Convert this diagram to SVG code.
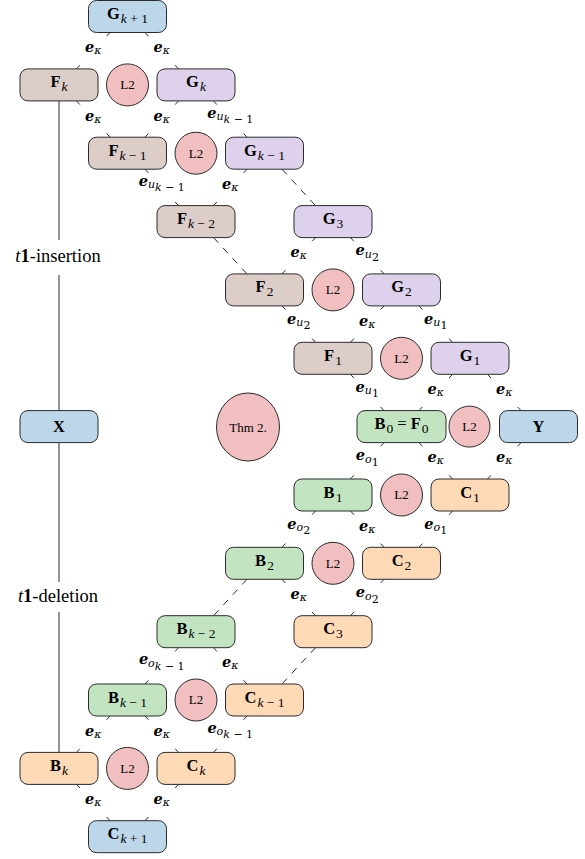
<svg xmlns="http://www.w3.org/2000/svg" width="585" height="859" viewBox="0 0 585 859">
<style>
.box{stroke:#2b2b2b;stroke-width:1}
.blue{fill:#bcd6ea}.brown{fill:#dccdc9}.purple{fill:#ddd1ec}.pink{fill:#f2bfc0}.green{fill:#c2e4c1}.orange{fill:#fdd9b6}
.nl{font-family:"Liberation Serif",serif;font-size:16.5px;text-anchor:middle;fill:#000}
.b{font-weight:bold}.i{font-style:italic}.s{font-size:13.5px}.n{font-style:normal}
.sm{font-family:"Liberation Serif",serif;font-size:13px;text-anchor:middle;fill:#000}
.el{font-family:"DejaVu Serif",serif;font-size:11px;font-style:italic;text-anchor:middle;fill:#000}
.eb{font-weight:bold;font-size:14.5px}
.tick{stroke:#2b2b2b;stroke-width:1;fill:none}
.dash{stroke-dasharray:7 7}
.side{font-family:"Liberation Serif",serif;font-size:18.5px;text-anchor:middle;fill:#000}
</style>
<g id="connectors">
<path class="tick" d="M59 100.9V240M59 275V410.6M59 442.6V582M59 612V752.4"/>
<path class="tick dash" d="M282 169.2L315.5 205.6M213.5 237.6L247 273.9M247 579.3L213.5 615.7M315.5 647.7L282 684"/>
<path class="tick" d="M110 32.5l-3.4 3.7M76.5 68.9l3.4-3.7"/>
<path class="tick" d="M145 32.5l3.4 3.7M178.5 68.9l-3.4-3.7"/>
<path class="tick" d="M76.5 100.9l3.4 3.7M110 137.2l-3.4-3.7"/>
<path class="tick" d="M178.5 100.9l-3.4 3.7M145 137.2l3.4-3.7"/>
<path class="tick" d="M213.5 100.9l3.4 3.7M247 137.2l-3.4-3.7"/>
<path class="tick" d="M145 169.2l3.4 3.7M178.5 205.6l-3.4-3.7"/>
<path class="tick" d="M247 169.2l-3.4 3.7M213.5 205.6l3.4-3.7"/>
<path class="tick" d="M315.5 237.6l-3.4 3.7M282 273.9l3.4-3.7"/>
<path class="tick" d="M350.5 237.6l3.4 3.7M384 273.9l-3.4-3.7"/>
<path class="tick" d="M282 305.9l3.4 3.7M315.5 342.3l-3.4-3.7"/>
<path class="tick" d="M384 305.9l-3.4 3.7M350.5 342.3l3.4-3.7"/>
<path class="tick" d="M419 305.9l3.4 3.7M452.5 342.3l-3.4-3.7"/>
<path class="tick" d="M350.5 374.3l3.4 3.7M384 410.6l-3.4-3.7"/>
<path class="tick" d="M452.5 374.3l-3.4 3.7M419 410.6l3.4-3.7"/>
<path class="tick" d="M487.5 374.3l3.4 3.7M521 410.6l-3.4-3.7"/>
<path class="tick" d="M384 442.6l-3.4 3.7M350.5 479l3.4-3.7"/>
<path class="tick" d="M419 442.6l3.4 3.7M452.5 479l-3.4-3.7"/>
<path class="tick" d="M521 442.6l-3.4 3.7M487.5 479l3.4-3.7"/>
<path class="tick" d="M315.5 511l-3.4 3.7M282 547.3l3.4-3.7"/>
<path class="tick" d="M350.5 511l3.4 3.7M384 547.3l-3.4-3.7"/>
<path class="tick" d="M452.5 511l-3.4 3.7M419 547.3l3.4-3.7"/>
<path class="tick" d="M282 579.3l3.4 3.7M315.5 615.7l-3.4-3.7"/>
<path class="tick" d="M384 579.3l-3.4 3.7M350.5 615.7l3.4-3.7"/>
<path class="tick" d="M178.5 647.7l-3.4 3.7M145 684l3.4-3.7"/>
<path class="tick" d="M213.5 647.7l3.4 3.7M247 684l-3.4-3.7"/>
<path class="tick" d="M110 716l-3.4 3.7M76.5 752.4l3.4-3.7"/>
<path class="tick" d="M145 716l3.4 3.7M178.5 752.4l-3.4-3.7"/>
<path class="tick" d="M247 716l-3.4 3.7M213.5 752.4l3.4-3.7"/>
<path class="tick" d="M76.5 784.4l3.4 3.7M110 820.7l-3.4-3.7"/>
<path class="tick" d="M178.5 784.4l-3.4 3.7M145 820.7l3.4-3.7"/>
<text class="el" x="93.25" y="52.2"><tspan class="eb">e</tspan><tspan dy="2">κ</tspan></text>
<text class="el" x="161.75" y="52.2"><tspan class="eb">e</tspan><tspan dy="2">κ</tspan></text>
<text class="el" x="93.25" y="120.55"><tspan class="eb">e</tspan><tspan dy="2">κ</tspan></text>
<text class="el" x="161.75" y="120.55"><tspan class="eb">e</tspan><tspan dy="2">κ</tspan></text>
<text class="el" x="230.25" y="117.55"><tspan class="eb">e</tspan><tspan dy="2.5">u</tspan><tspan dy="3">k</tspan><tspan class="n"> − 1</tspan></text>
<text class="el" x="161.75" y="185.9"><tspan class="eb">e</tspan><tspan dy="2.5">u</tspan><tspan dy="3">k</tspan><tspan class="n"> − 1</tspan></text>
<text class="el" x="230.25" y="188.9"><tspan class="eb">e</tspan><tspan dy="2">κ</tspan></text>
<text class="el" x="298.75" y="257.25"><tspan class="eb">e</tspan><tspan dy="2">κ</tspan></text>
<text class="el" x="367.25" y="255.25"><tspan class="eb">e</tspan><tspan dy="2.5">u</tspan><tspan class="n" dy="3">2</tspan></text>
<text class="el" x="298.75" y="323.6"><tspan class="eb">e</tspan><tspan dy="2.5">u</tspan><tspan class="n" dy="3">2</tspan></text>
<text class="el" x="367.25" y="325.6"><tspan class="eb">e</tspan><tspan dy="2">κ</tspan></text>
<text class="el" x="435.75" y="323.6"><tspan class="eb">e</tspan><tspan dy="2.5">u</tspan><tspan class="n" dy="3">1</tspan></text>
<text class="el" x="367.25" y="391.95"><tspan class="eb">e</tspan><tspan dy="2.5">u</tspan><tspan class="n" dy="3">1</tspan></text>
<text class="el" x="435.75" y="393.95"><tspan class="eb">e</tspan><tspan dy="2">κ</tspan></text>
<text class="el" x="504.25" y="393.95"><tspan class="eb">e</tspan><tspan dy="2">κ</tspan></text>
<text class="el" x="367.25" y="460.3"><tspan class="eb">e</tspan><tspan dy="2.5">o</tspan><tspan class="n" dy="3">1</tspan></text>
<text class="el" x="435.75" y="462.3"><tspan class="eb">e</tspan><tspan dy="2">κ</tspan></text>
<text class="el" x="504.25" y="462.3"><tspan class="eb">e</tspan><tspan dy="2">κ</tspan></text>
<text class="el" x="298.75" y="528.65"><tspan class="eb">e</tspan><tspan dy="2.5">o</tspan><tspan class="n" dy="3">2</tspan></text>
<text class="el" x="367.25" y="530.65"><tspan class="eb">e</tspan><tspan dy="2">κ</tspan></text>
<text class="el" x="435.75" y="528.65"><tspan class="eb">e</tspan><tspan dy="2.5">o</tspan><tspan class="n" dy="3">1</tspan></text>
<text class="el" x="298.75" y="599"><tspan class="eb">e</tspan><tspan dy="2">κ</tspan></text>
<text class="el" x="367.25" y="597"><tspan class="eb">e</tspan><tspan dy="2.5">o</tspan><tspan class="n" dy="3">2</tspan></text>
<text class="el" x="161.75" y="664.35"><tspan class="eb">e</tspan><tspan dy="2.5">o</tspan><tspan dy="3">k</tspan><tspan class="n"> − 1</tspan></text>
<text class="el" x="230.25" y="667.35"><tspan class="eb">e</tspan><tspan dy="2">κ</tspan></text>
<text class="el" x="93.25" y="735.7"><tspan class="eb">e</tspan><tspan dy="2">κ</tspan></text>
<text class="el" x="161.75" y="735.7"><tspan class="eb">e</tspan><tspan dy="2">κ</tspan></text>
<text class="el" x="230.25" y="732.7"><tspan class="eb">e</tspan><tspan dy="2.5">o</tspan><tspan dy="3">k</tspan><tspan class="n"> − 1</tspan></text>
<text class="el" x="93.25" y="804.05"><tspan class="eb">e</tspan><tspan dy="2">κ</tspan></text>
<text class="el" x="161.75" y="804.05"><tspan class="eb">e</tspan><tspan dy="2">κ</tspan></text>
</g>
<g id="labels">
<text class="side" x="58" y="262"><tspan class="i">t</tspan><tspan class="b">1</tspan>-insertion</text>
<text class="side" x="58" y="602"><tspan class="i">t</tspan><tspan class="b">1</tspan>-deletion</text>
</g>
<g id="G_k1"><rect class="box blue" x="88.5" y="0.5" width="78" height="32" rx="8"/><text class="nl" x="127.5" y="19"><tspan class="b">G</tspan><tspan class="s i" dy="4" dx="1">k</tspan><tspan class="s"> + 1</tspan></text></g>
<g id="F_k"><rect class="box brown" x="20" y="68.9" width="78" height="32" rx="8"/><text class="nl" x="59" y="87.4"><tspan class="b">F</tspan><tspan class="s i" dy="4" dx="1">k</tspan></text></g>
<g id="L2_1"><circle class="box pink" cx="127.5" cy="84.9" r="21"/><text class="sm" x="127.5" y="89.3">L2</text></g>
<g id="G_k"><rect class="box purple" x="157" y="68.9" width="78" height="32" rx="8"/><text class="nl" x="196" y="87.4"><tspan class="b">G</tspan><tspan class="s i" dy="4" dx="1">k</tspan></text></g>
<g id="F_km1"><rect class="box brown" x="88.5" y="137.2" width="78" height="32" rx="8"/><text class="nl" x="127.5" y="155.7"><tspan class="b">F</tspan><tspan class="s i" dy="4" dx="1">k</tspan><tspan class="s"> − 1</tspan></text></g>
<g id="L2_2"><circle class="box pink" cx="196" cy="153.2" r="21"/><text class="sm" x="196" y="157.6">L2</text></g>
<g id="G_km1"><rect class="box purple" x="225.5" y="137.2" width="78" height="32" rx="8"/><text class="nl" x="264.5" y="155.7"><tspan class="b">G</tspan><tspan class="s i" dy="4" dx="1">k</tspan><tspan class="s"> − 1</tspan></text></g>
<g id="F_km2"><rect class="box brown" x="157" y="205.6" width="78" height="32" rx="8"/><text class="nl" x="196" y="224.1"><tspan class="b">F</tspan><tspan class="s i" dy="4" dx="1">k</tspan><tspan class="s"> − 2</tspan></text></g>
<g id="G_3"><rect class="box purple" x="294" y="205.6" width="78" height="32" rx="8"/><text class="nl" x="333" y="224.1"><tspan class="b">G</tspan><tspan class="s" dy="4" dx="1">3</tspan></text></g>
<g id="F_2"><rect class="box brown" x="225.5" y="273.9" width="78" height="32" rx="8"/><text class="nl" x="264.5" y="292.4"><tspan class="b">F</tspan><tspan class="s" dy="4" dx="1">2</tspan></text></g>
<g id="L2_3"><circle class="box pink" cx="333" cy="289.9" r="21"/><text class="sm" x="333" y="294.3">L2</text></g>
<g id="G_2"><rect class="box purple" x="362.5" y="273.9" width="78" height="32" rx="8"/><text class="nl" x="401.5" y="292.4"><tspan class="b">G</tspan><tspan class="s" dy="4" dx="1">2</tspan></text></g>
<g id="F_1"><rect class="box brown" x="294" y="342.3" width="78" height="32" rx="8"/><text class="nl" x="333" y="360.8"><tspan class="b">F</tspan><tspan class="s" dy="4" dx="1">1</tspan></text></g>
<g id="L2_4"><circle class="box pink" cx="401.5" cy="358.3" r="21"/><text class="sm" x="401.5" y="362.7">L2</text></g>
<g id="G_1"><rect class="box purple" x="431" y="342.3" width="78" height="32" rx="8"/><text class="nl" x="470" y="360.8"><tspan class="b">G</tspan><tspan class="s" dy="4" dx="1">1</tspan></text></g>
<g id="X"><rect class="box blue" x="20" y="410.6" width="78" height="32" rx="8"/><text class="nl b" x="59" y="432.2">X</text></g>
<g id="Thm2"><ellipse class="box pink" cx="248" cy="427" rx="31.5" ry="34"/><text class="sm" x="248" y="431.5">Thm 2.</text></g>
<g id="B0F0"><rect class="box green" x="357" y="410.6" width="89" height="32" rx="8"/><text class="nl" x="401.5" y="429.1"><tspan class="b">B</tspan><tspan class="s" dy="4" dx="1">0</tspan><tspan dy="-4"> = </tspan><tspan class="b">F</tspan><tspan class="s" dy="4" dx="1">0</tspan></text></g>
<g id="L2_5"><circle class="box pink" cx="469.5" cy="426.6" r="20.5"/><text class="sm" x="469.5" y="431">L2</text></g>
<g id="Y"><rect class="box blue" x="499.5" y="410.6" width="78" height="32" rx="8"/><text class="nl b" x="538.5" y="432.2">Y</text></g>
<g id="B_1"><rect class="box green" x="294" y="479" width="78" height="32" rx="8"/><text class="nl" x="333" y="497.5"><tspan class="b">B</tspan><tspan class="s" dy="4" dx="1">1</tspan></text></g>
<g id="L2_6"><circle class="box pink" cx="401.5" cy="495" r="21"/><text class="sm" x="401.5" y="499.4">L2</text></g>
<g id="C_1"><rect class="box orange" x="431" y="479" width="78" height="32" rx="8"/><text class="nl" x="470" y="497.5"><tspan class="b">C</tspan><tspan class="s" dy="4" dx="1">1</tspan></text></g>
<g id="B_2"><rect class="box green" x="225.5" y="547.3" width="78" height="32" rx="8"/><text class="nl" x="264.5" y="565.8"><tspan class="b">B</tspan><tspan class="s" dy="4" dx="1">2</tspan></text></g>
<g id="L2_7"><circle class="box pink" cx="333" cy="563.3" r="21"/><text class="sm" x="333" y="567.7">L2</text></g>
<g id="C_2"><rect class="box orange" x="362.5" y="547.3" width="78" height="32" rx="8"/><text class="nl" x="401.5" y="565.8"><tspan class="b">C</tspan><tspan class="s" dy="4" dx="1">2</tspan></text></g>
<g id="B_km2"><rect class="box green" x="157" y="615.7" width="78" height="32" rx="8"/><text class="nl" x="196" y="634.2"><tspan class="b">B</tspan><tspan class="s i" dy="4" dx="1">k</tspan><tspan class="s"> − 2</tspan></text></g>
<g id="C_3"><rect class="box orange" x="294" y="615.7" width="78" height="32" rx="8"/><text class="nl" x="333" y="634.2"><tspan class="b">C</tspan><tspan class="s" dy="4" dx="1">3</tspan></text></g>
<g id="B_km1"><rect class="box green" x="88.5" y="684" width="78" height="32" rx="8"/><text class="nl" x="127.5" y="702.5"><tspan class="b">B</tspan><tspan class="s i" dy="4" dx="1">k</tspan><tspan class="s"> − 1</tspan></text></g>
<g id="L2_8"><circle class="box pink" cx="196" cy="700" r="21"/><text class="sm" x="196" y="704.4">L2</text></g>
<g id="C_km1"><rect class="box orange" x="225.5" y="684" width="78" height="32" rx="8"/><text class="nl" x="264.5" y="702.5"><tspan class="b">C</tspan><tspan class="s i" dy="4" dx="1">k</tspan><tspan class="s"> − 1</tspan></text></g>
<g id="B_k"><rect class="box orange" x="20" y="752.4" width="78" height="32" rx="8"/><text class="nl" x="59" y="770.9"><tspan class="b">B</tspan><tspan class="s i" dy="4" dx="1">k</tspan></text></g>
<g id="L2_9"><circle class="box pink" cx="127.5" cy="768.4" r="21"/><text class="sm" x="127.5" y="772.8">L2</text></g>
<g id="C_k"><rect class="box orange" x="157" y="752.4" width="78" height="32" rx="8"/><text class="nl" x="196" y="770.9"><tspan class="b">C</tspan><tspan class="s i" dy="4" dx="1">k</tspan></text></g>
<g id="C_k1"><rect class="box blue" x="88.5" y="820.7" width="78" height="32" rx="8"/><text class="nl" x="127.5" y="839.2"><tspan class="b">C</tspan><tspan class="s i" dy="4" dx="1">k</tspan><tspan class="s"> + 1</tspan></text></g>
</svg>
